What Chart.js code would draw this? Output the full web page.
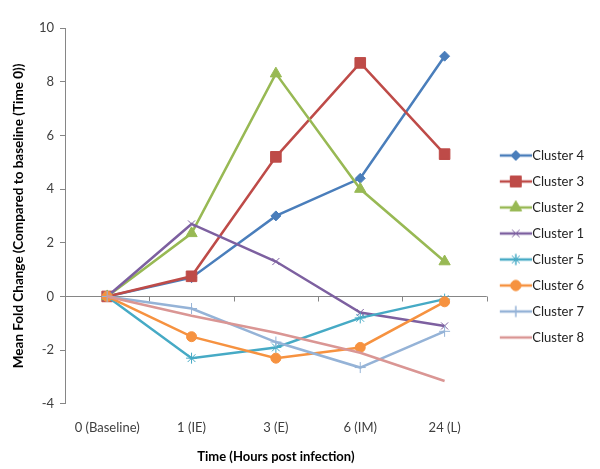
<!DOCTYPE html>
<html lang="en">
<head>
<meta charset="UTF-8">
<title>Mean Fold Change by Cluster</title>
<script src="https://cdn.jsdelivr.net/npm/chart.js"></script>
<style>
  html, body { margin: 0; padding: 0; background: #fff; }
  #wrap { width: 600px; height: 469px; }
</style>
</head>
<body>
<div id="wrap"><canvas id="foldChart" width="600" height="469"></canvas></div>
<script>
// time points (category axis)
const timeLabels = ['0 (Baseline)', '1 (IE)', '3 (E)', '6 (IM)', '24 (L)'];

// series values
const cluster4 = [0, 0.7, 3.0, 4.4, 8.95];
const cluster3 = [0, 0.75, 5.2, 8.7, 5.3];
const cluster2 = [0, 2.35, 8.3, 4.0, 1.3];
const cluster1 = [0, 2.7, 1.3, -0.6, -1.1];
const cluster5 = [0, -2.3, -1.9, -0.8, -0.1];
const cluster6 = [0, -1.5, -2.3, -1.9, -0.2];
const cluster7 = [0, -0.45, -1.7, -2.65, -1.3];
const cluster8 = [0, -0.72, -1.35, -2.1, -3.15];

const seriesNames = ['Cluster 4', 'Cluster 3', 'Cluster 2', 'Cluster 1', 'Cluster 5', 'Cluster 6', 'Cluster 7', 'Cluster 8'];
const seriesValues = [cluster4, cluster3, cluster2, cluster1, cluster5, cluster6, cluster7, cluster8];

// y axis ticks
const yMin = -4, yMax = 10, yStep = 2;

// styling per series (Excel 2007 palette)
const styles = [
    { color: '#4A7EBB', point: 'rectRot', r: 5 },
    { color: '#BE4B48', point: 'rect', r: 7.5 },
    { color: '#98B954', point: 'triangle', r: 6.5 },
    { color: '#7D60A0', point: 'crossRot', r: 5 },
    { color: '#46AAC5', point: 'star', r: 5.5 },
    { color: '#F69240', point: 'circle', r: 5 },
    { color: '#95B3D7', point: 'cross', r: 5.5 },
    { color: '#DA9694', point: false, r: 0 }
];

const FONT = 'Lato, "Liberation Sans", sans-serif';

// legend icons: line with the marker in the middle
// (canvas is centred on the legend box, so it is padded to reach the text)
function makeIcon(st) {
    const c = document.createElement('canvas');
    c.width = 38; c.height = 16;
    const ctx = c.getContext('2d');
    ctx.strokeStyle = st.color;
    ctx.lineWidth = 2.5;
    ctx.beginPath();
    ctx.moveTo(6, 8); ctx.lineTo(38, 8);
    ctx.stroke();
    if (st.point) {
        ctx.fillStyle = st.color;
        ctx.lineWidth = 1;
        Chart.helpers.drawPoint(ctx, { pointStyle: st.point, radius: st.r, borderWidth: 1, rotation: 0 }, 22, 8);
        ctx.fill();
        ctx.stroke();
    }
    return c;
}
const icons = styles.map(makeIcon);

// x axis drawn at y = 0 with small tick marks between categories
const zeroAxis = {
    id: 'zeroAxis',
    beforeDatasetsDraw(chart) {
        const { ctx, chartArea, scales } = chart;
        const y0 = Math.round(scales.y.getPixelForValue(0)) + 0.5;
        const step = (chartArea.right - chartArea.left) / timeLabels.length;
        ctx.save();
        ctx.strokeStyle = '#868686';
        ctx.lineWidth = 1;
        ctx.beginPath();
        ctx.moveTo(chartArea.left, y0);
        ctx.lineTo(chartArea.right, y0);
        for (let i = 1; i <= timeLabels.length; i++) {
            const x = Math.round(chartArea.left + step * i) + 0.5;
            ctx.moveTo(x, y0);
            ctx.lineTo(x, y0 + 5);
        }
        ctx.stroke();
        ctx.restore();
    }
};

const datasets = seriesNames.map((name, i) => ({
    label: name,
    data: seriesValues[i],
    borderColor: styles[i].color,
    backgroundColor: styles[i].color,
    pointBackgroundColor: styles[i].color,
    pointBorderColor: styles[i].color,
    pointStyle: styles[i].point,
    pointRadius: styles[i].r,
    pointHoverRadius: styles[i].r,
    pointBorderWidth: 1,
    borderWidth: 2.5,
    tension: 0,
    order: -i
}));

new Chart(document.getElementById('foldChart').getContext('2d'), {
    type: 'line',
    data: { labels: timeLabels, datasets: datasets },
    plugins: [zeroAxis],
    options: {
        responsive: false,
        animation: false,
        layout: { padding: { top: 28, right: 6, bottom: 4, left: 8 } },
        plugins: {
            tooltip: { enabled: false },
            legend: {
                position: 'right',
                maxWidth: 130,
                labels: {
                    usePointStyle: true,
                    pointStyleWidth: 26,
                    boxHeight: 13,
                    padding: 13,
                    color: '#222',
                    font: { family: FONT, size: 13 },
                    generateLabels(chart) {
                        const items = Chart.defaults.plugins.legend.labels.generateLabels(chart);
                        items.forEach(it => { it.pointStyle = icons[it.datasetIndex]; });
                        return items.sort((a, b) => a.datasetIndex - b.datasetIndex);
                    }
                }
            }
        },
        scales: {
            x: {
                offset: true,
                grid: { display: false },
                border: { display: false },
                ticks: { color: '#3f3f3f', font: { family: FONT, size: 13 }, padding: 8 },
                title: {
                    display: true,
                    text: 'Time (Hours post infection)',
                    color: '#000',
                    font: { family: FONT, size: 13, weight: 'bold' },
                    padding: { top: 6, bottom: 0 }
                }
            },
            y: {
                min: yMin,
                max: yMax,
                afterFit(s) { s.width = 57; },
                ticks: { stepSize: yStep, color: '#3f3f3f', font: { family: FONT, size: 13 }, padding: 6 },
                grid: { drawOnChartArea: false, drawTicks: true, tickLength: 5, color: '#868686' },
                border: { display: true, color: '#868686' },
                title: {
                    display: true,
                    text: 'Mean Fold Change (Compared to baseline (Time 0))',
                    color: '#000',
                    font: { family: FONT, size: 13.5, weight: 'bold' },
                    padding: { top: 3, bottom: 6 }
                }
            }
        }
    }
});
</script>
</body>
</html>
